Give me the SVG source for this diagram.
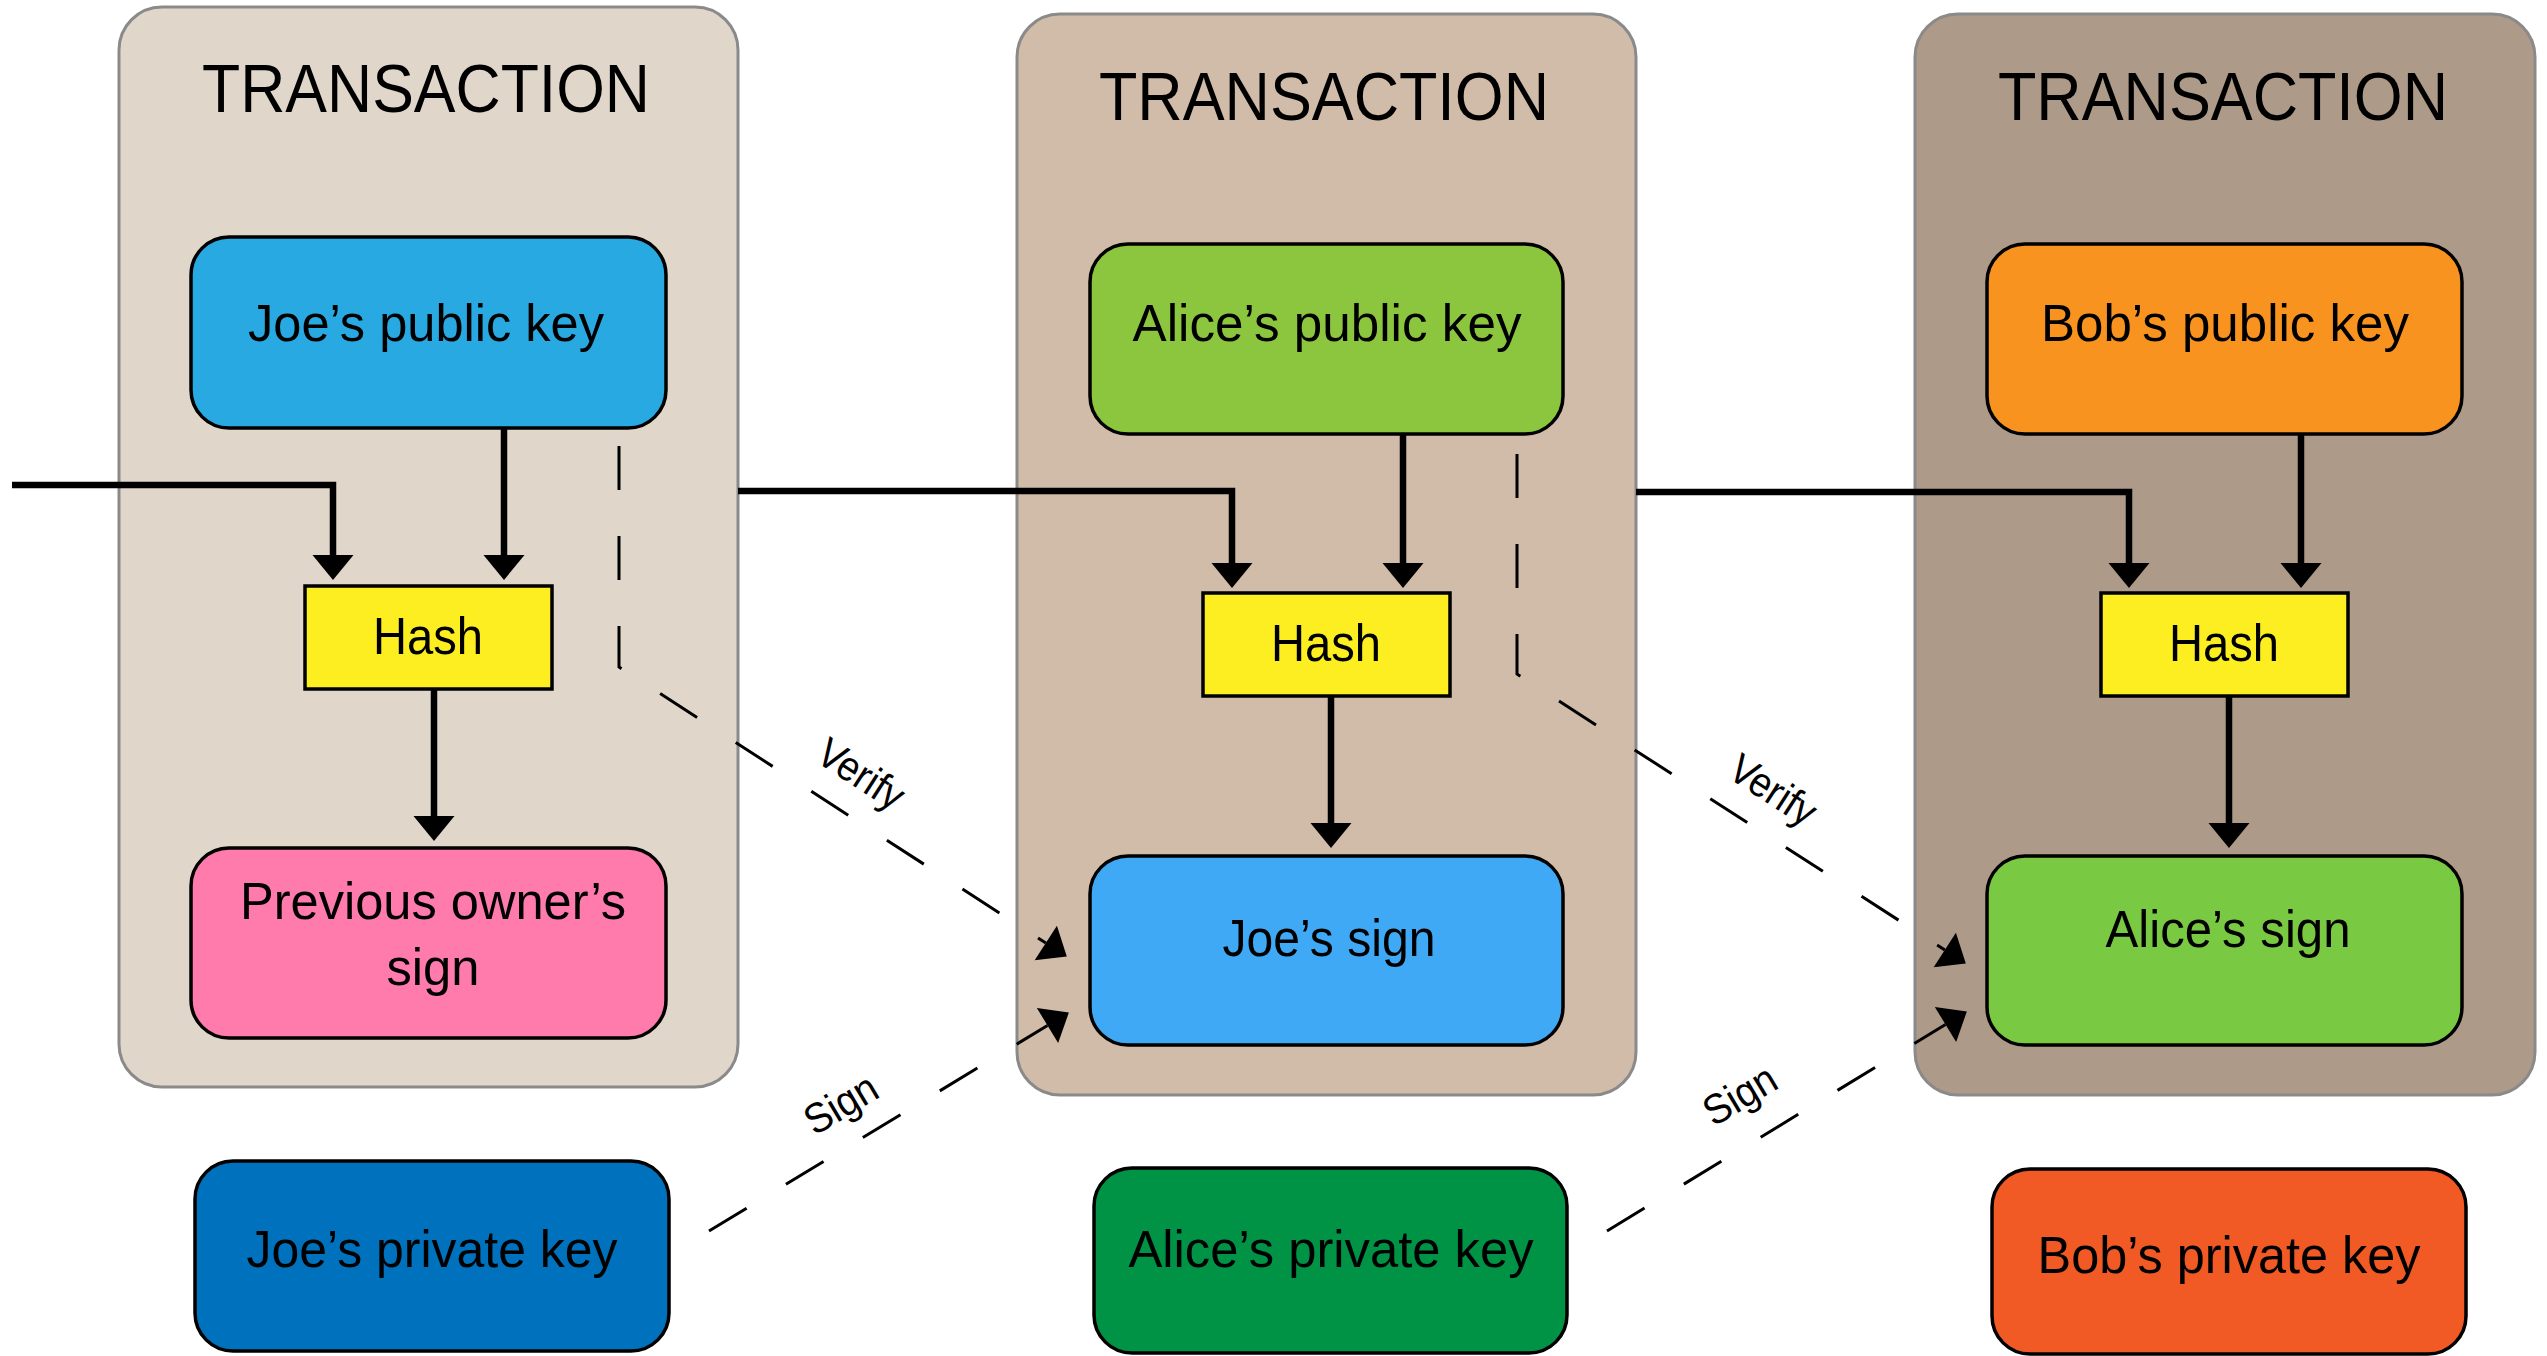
<svg xmlns="http://www.w3.org/2000/svg" width="2547" height="1356" viewBox="0 0 2547 1356">
<style>
.tx{stroke:#8a8a8a;stroke-width:3}
.node{stroke:#000;stroke-width:3.5}
.lbl{font-family:"Liberation Sans",Arial,sans-serif;font-size:52px;text-anchor:middle;fill:#000}
.title{font-size:68px}
.elbl{font-size:42px}
.conn{fill:none;stroke:#000;stroke-width:6.5}
.dash{fill:none;stroke:#000;stroke-width:3;stroke-dasharray:44 46}
</style>
<defs>
<marker id="ah" markerUnits="userSpaceOnUse" markerWidth="26" markerHeight="42" refX="0" refY="20.5" orient="auto" overflow="visible">
<path d="M0,0 L25,20.5 L0,41 Z" fill="#000"/>
</marker>
</defs>
<rect width="2547" height="1356" fill="#fff"/>
<g id="tx1"><rect class="tx" x="119" y="7" width="619" height="1080" rx="43" fill="#e0d6ca"/><text class="lbl title" x="426" y="112" textLength="448" lengthAdjust="spacingAndGlyphs">TRANSACTION</text></g>
<g id="tx2"><rect class="tx" x="1017" y="14" width="619" height="1081" rx="43" fill="#d1bca9"/><text class="lbl title" x="1324" y="120" textLength="450" lengthAdjust="spacingAndGlyphs">TRANSACTION</text></g>
<g id="tx3"><rect class="tx" x="1915" y="14" width="620" height="1081" rx="43" fill="#ad9a89"/><text class="lbl title" x="2223" y="120" textLength="450" lengthAdjust="spacingAndGlyphs">TRANSACTION</text></g>

<g id="joe-pub"><rect class="node" x="191" y="237" width="475" height="191" rx="38" fill="#29a9e1"/><text class="lbl" x="426" y="341" textLength="356" lengthAdjust="spacingAndGlyphs">Joe’s public key</text></g>
<g id="hash1"><rect class="node" x="305" y="586" width="247" height="103" fill="#fcee21"/><text class="lbl" x="428" y="654" textLength="110" lengthAdjust="spacingAndGlyphs">Hash</text></g>
<g id="prev-sign"><rect class="node" x="191" y="848" width="475" height="190" rx="38" fill="#ff7bac"/><text class="lbl" x="433" y="919" textLength="386" lengthAdjust="spacingAndGlyphs">Previous owner’s</text><text class="lbl" x="433" y="985" textLength="93" lengthAdjust="spacingAndGlyphs">sign</text></g>
<g id="joe-priv"><rect class="node" x="195" y="1161" width="474" height="190" rx="38" fill="#0071bc"/><text class="lbl" x="432" y="1267" textLength="371" lengthAdjust="spacingAndGlyphs">Joe’s private key</text></g>

<g id="alice-pub"><rect class="node" x="1090" y="244" width="473" height="190" rx="38" fill="#8cc63f"/><text class="lbl" x="1327" y="341" textLength="389" lengthAdjust="spacingAndGlyphs">Alice’s public key</text></g>
<g id="hash2"><rect class="node" x="1203" y="593" width="247" height="103" fill="#fcee21"/><text class="lbl" x="1326" y="661" textLength="110" lengthAdjust="spacingAndGlyphs">Hash</text></g>
<g id="joe-sign"><rect class="node" x="1090" y="856" width="473" height="189" rx="38" fill="#3fa9f5"/><text class="lbl" x="1329" y="956" textLength="213" lengthAdjust="spacingAndGlyphs">Joe’s sign</text></g>
<g id="alice-priv"><rect class="node" x="1094" y="1168" width="473" height="185" rx="38" fill="#009245"/><text class="lbl" x="1331" y="1267" textLength="405" lengthAdjust="spacingAndGlyphs">Alice’s private key</text></g>

<g id="bob-pub"><rect class="node" x="1987" y="244" width="475" height="190" rx="38" fill="#f7931e"/><text class="lbl" x="2225" y="341" textLength="368" lengthAdjust="spacingAndGlyphs">Bob’s public key</text></g>
<g id="hash3"><rect class="node" x="2101" y="593" width="247" height="103" fill="#fcee21"/><text class="lbl" x="2224" y="661" textLength="110" lengthAdjust="spacingAndGlyphs">Hash</text></g>
<g id="alice-sign"><rect class="node" x="1987" y="856" width="475" height="189" rx="38" fill="#7ac943"/><text class="lbl" x="2228" y="947" textLength="245" lengthAdjust="spacingAndGlyphs">Alice’s sign</text></g>
<g id="bob-priv"><rect class="node" x="1992" y="1169" width="474" height="185" rx="38" fill="#f15a24"/><text class="lbl" x="2229" y="1273" textLength="383" lengthAdjust="spacingAndGlyphs">Bob’s private key</text></g>

<g id="connectors">
<path class="conn" d="M12,485 H333 V555" marker-end="url(#ah)"/>
<path class="conn" d="M504,428 V555" marker-end="url(#ah)"/>
<path class="conn" d="M434,689 V816" marker-end="url(#ah)"/>
<path class="conn" d="M738,491 H1232 V563" marker-end="url(#ah)"/>
<path class="conn" d="M1403,434 V563" marker-end="url(#ah)"/>
<path class="conn" d="M1331,696 V823" marker-end="url(#ah)"/>
<path class="conn" d="M1636,492 H2129 V563" marker-end="url(#ah)"/>
<path class="conn" d="M2301,434 V563" marker-end="url(#ah)"/>
<path class="conn" d="M2229,696 V823" marker-end="url(#ah)"/>
<path class="dash" d="M619,446 V667 L1045.8,943" marker-end="url(#ah)"/>
<path class="dash" d="M709,1231 L1047.5,1025.5" marker-end="url(#ah)"/>
<path class="dash" d="M1517,454 V674 L1944.8,950" marker-end="url(#ah)"/>
<path class="dash" d="M1607,1231 L1945.5,1024.5" marker-end="url(#ah)"/>
<text class="lbl elbl" transform="translate(860,776) rotate(33)" x="0" y="12" textLength="95" lengthAdjust="spacingAndGlyphs">Verify</text>
<text class="lbl elbl" transform="translate(842,1106) rotate(-31)" x="0" y="12" textLength="78" lengthAdjust="spacingAndGlyphs">Sign</text>
<text class="lbl elbl" transform="translate(1772,792) rotate(33)" x="0" y="12" textLength="95" lengthAdjust="spacingAndGlyphs">Verify</text>
<text class="lbl elbl" transform="translate(1741,1097) rotate(-31)" x="0" y="12" textLength="78" lengthAdjust="spacingAndGlyphs">Sign</text>
</g>
</svg>
